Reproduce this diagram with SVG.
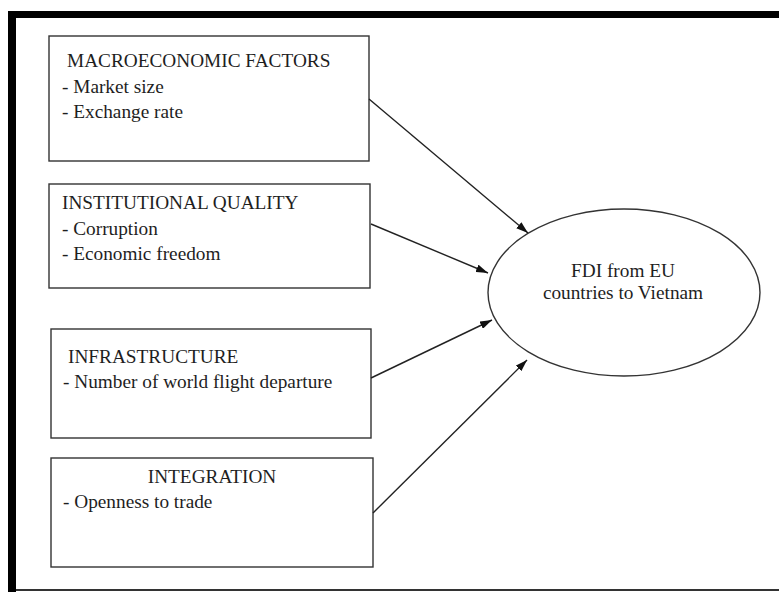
<svg xmlns="http://www.w3.org/2000/svg" width="779" height="592" viewBox="0 0 779 592">
  <style>
    .box { fill: #fff; stroke: #333; stroke-width: 1.4; }
    .txt { font-family: "Liberation Serif", "Times New Roman", serif; font-size: 19.3px; fill: #1e1e1e; }
    .mid { text-anchor: middle; }
    .edge { stroke: #222; stroke-width: 1.4; fill: none; marker-end: url(#arrow); }
  </style>
  <defs>
    <marker id="arrow" viewBox="0 0 12 8" refX="12" refY="4" markerWidth="12" markerHeight="8" markerUnits="userSpaceOnUse" orient="auto">
      <path d="M0,0 L12,4 L0,8 Z" fill="#111"/>
    </marker>
  </defs>

  <rect width="779" height="592" fill="#fff"/>

  <!-- outer frame -->
  <g id="frame">
    <rect x="8" y="11" width="771" height="7" fill="#000"/>
    <rect x="8" y="11" width="8" height="581" fill="#000"/>
    <rect x="16" y="589" width="763" height="2" fill="#333"/>
  </g>

  <g id="macro">
    <rect class="box" x="49" y="36" width="320" height="125"/>
    <text class="txt" x="67" y="67">MACROECONOMIC FACTORS</text>
    <text class="txt" x="62" y="93">- Market size</text>
    <text class="txt" x="62" y="118">- Exchange rate</text>
  </g>

  <g id="institutional">
    <rect class="box" x="49" y="184" width="321" height="104"/>
    <text class="txt" x="62" y="209">INSTITUTIONAL QUALITY</text>
    <text class="txt" x="62" y="235">- Corruption</text>
    <text class="txt" x="62" y="260">- Economic freedom</text>
  </g>

  <g id="infrastructure">
    <rect class="box" x="51" y="329" width="320" height="109"/>
    <text class="txt" x="68" y="363">INFRASTRUCTURE</text>
    <text class="txt" x="63" y="388">- Number of world flight departure</text>
  </g>

  <g id="integration">
    <rect class="box" x="51" y="458" width="322" height="109"/>
    <text class="txt mid" x="212" y="483">INTEGRATION</text>
    <text class="txt" x="63" y="508">- Openness to trade</text>
  </g>

  <g id="fdi">
    <ellipse class="box" cx="624" cy="292.5" rx="136" ry="83.5"/>
    <text class="txt mid" x="623" y="277">FDI from EU</text>
    <text class="txt mid" x="623" y="299">countries to Vietnam</text>
  </g>

  <g id="connectors">
    <line class="edge" x1="369" y1="99" x2="528" y2="233"/>
    <line class="edge" x1="371" y1="224" x2="488" y2="273"/>
    <line class="edge" x1="371" y1="378" x2="492" y2="320"/>
    <line class="edge" x1="373" y1="513" x2="527" y2="360"/>
  </g>
</svg>
